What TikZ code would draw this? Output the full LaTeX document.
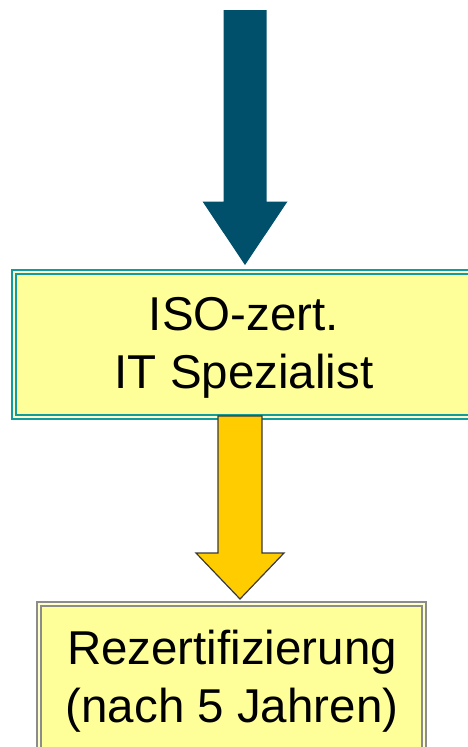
\documentclass[tikz,border=0pt]{standalone}
\usepackage{fontspec}
\setmainfont{Liberation Sans}
\definecolor{darkteal}{HTML}{004F6B}
\definecolor{tealline}{HTML}{119C9C}
\definecolor{paleyellow}{HTML}{FFFF99}
\definecolor{gapyellow}{HTML}{FFFFCC}
\definecolor{arrowgold}{HTML}{FFCC00}
\definecolor{arrowedge}{HTML}{3A3A3A}
\definecolor{greyline}{HTML}{8C8C8C}
\tikzset{
  outerframe/.style={draw=#1, line width=2pt, fill=gapyellow},
  innerframe/.style={draw=#1, line width=1.6pt, fill=paleyellow},
  boxtext/.style={align=center, font=\fontsize{47.5}{58}\selectfont, text=black, inner sep=0pt}
}
\begin{document}
\begin{tikzpicture}[x=1pt,y=-1pt]
\useasboundingbox (0,0) rectangle (468,747);
% top dark arrow
\fill[darkteal] (223.5,10) -- (266.5,10) -- (266.5,201.5) -- (287.5,201.5) -- (245,265) -- (202.5,201.5) -- (223.5,201.5) -- cycle;
% box 1
\draw[outerframe=tealline] (12,270) rectangle (480,419);
\draw[innerframe=tealline] (16,274) rectangle (476,415);
\node[boxtext] (iso) at (244,348) {ISO-zert.\\IT Spezialist};
% yellow arrow
\draw[fill=arrowgold, draw=arrowedge, line width=1.2pt, line join=miter] (218,416) -- (262,416) -- (262,553) -- (284,553) -- (240,599) -- (196,553) -- (218,553) -- cycle;
% box 2
\draw[outerframe=greyline] (37,602) rectangle (426,770);
\draw[innerframe=greyline] (41,606) rectangle (422,766);
\node[boxtext] (rez) at (232,681) {Rezertifizierung\\(nach 5 Jahren)};
\end{tikzpicture}
\end{document}
